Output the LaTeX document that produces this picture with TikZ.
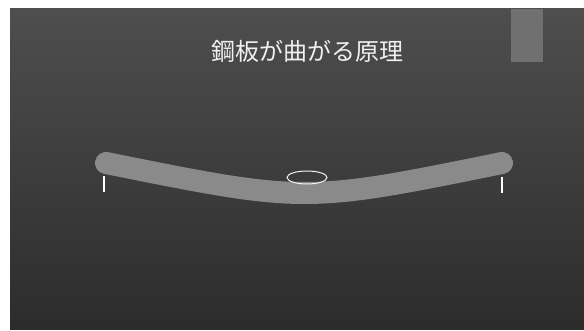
\documentclass[tikz,border=0pt]{standalone}
\usepackage{fontspec}
\newfontfamily\jpfont{Noto Sans CJK JP}
\usepackage{xcolor}
\usepackage{tikz}
\usetikzlibrary{shapes.geometric, positioning, calc}

\definecolor{slidetop}{RGB}{78,78,78}
\definecolor{slidebot}{RGB}{44,44,44}
\definecolor{platecol}{RGB}{138,138,138}
\definecolor{markcol}{RGB}{112,112,112}

\begin{document}
\begin{tikzpicture}[x=1pt, y=-1pt,
  title/.style={font=\jpfont\fontsize{24}{28}\selectfont, text=white!88!gray},
  plate/.style={draw=platecol, line width=22pt, line cap=round},
  support/.style={draw=white, line width=2.6pt},
  spot/.style={ellipse, draw=white!90!gray, line width=1pt, minimum width=40pt, minimum height=13pt, inner sep=0pt}
]
  \useasboundingbox (0,0) rectangle (584,331);
  \fill[white] (0,0) rectangle (584,331);
  \shade[top color=slidetop, bottom color=slidebot] (10,9) rectangle (584,329);

  \node[title] (ttl) at (307,51) {鋼板が曲がる原理};
  \node[rectangle, fill=markcol, minimum width=32pt, minimum height=53pt, inner sep=0pt] (mark) at (527,35.5) {};

  % bent plate
  \coordinate (lend) at (106,163);
  \coordinate (rend) at (502,163);
  \path[plate] (lend) .. controls (305,203) .. (rend);

  % supports under both ends
  \coordinate (lsup1) at (104,176);
  \coordinate (lsup2) at (104,192);
  \coordinate (rsup1) at (502,177);
  \coordinate (rsup2) at (502,193);
  \path[support] (lsup1) -- (lsup2);
  \path[support] (rsup1) -- (rsup2);

  \node[spot] (ctr) at (307,177.5) {};
\end{tikzpicture}
\end{document}
